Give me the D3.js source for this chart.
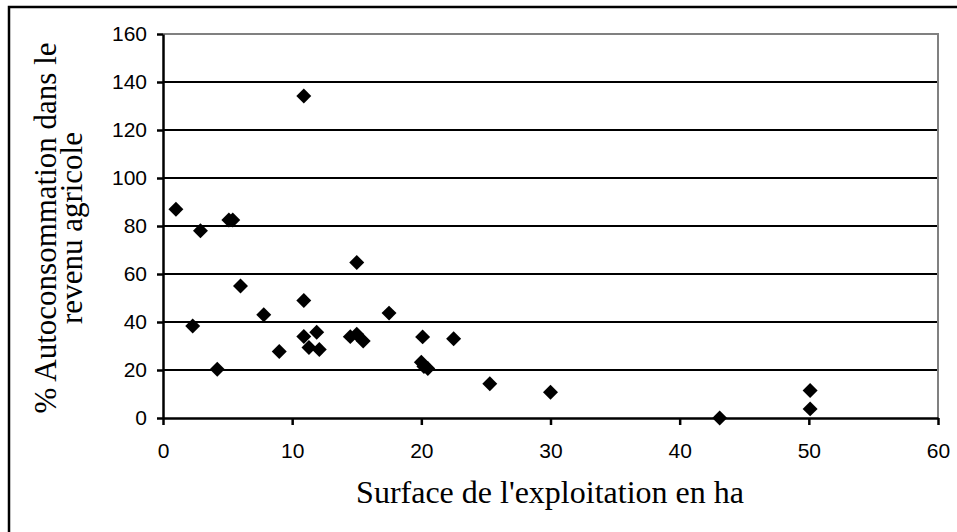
<!DOCTYPE html>
<html>
<head>
<meta charset="utf-8">
<script src="https://cdn.jsdelivr.net/npm/d3@7"></script>
<style>
  html,body{margin:0;padding:0;background:#fff;}
  svg{display:block;}
</style>
</head>
<body>
<div id="chart"></div>
<script>
// Nuage de points : surface de l'exploitation (ha) × % autoconsommation
const surface = [1.0, 2.3, 2.9, 4.2, 5.1, 5.4, 6.0, 7.8, 9.0, 10.9, 10.9, 10.9, 11.3, 11.9, 12.1,
                 14.5, 15.0, 15.0, 15.5, 17.5, 20.1, 20.0, 20.2, 20.5, 22.5, 25.3, 30.0, 43.1, 50.1, 50.1];
const autoconso = [87, 38.3, 78, 20.3, 82.5, 82.5, 55, 43, 27.7, 134.2, 49, 34, 29.4, 35.7, 28.5,
                   33.9, 64.8, 34.9, 32.1, 43.7, 33.8, 23.2, 21.5, 20.6, 33, 14.3, 10.7, 0, 11.5, 3.8];
const xTicks = [0, 10, 20, 30, 40, 50, 60];
const yTicks = [0, 20, 40, 60, 80, 100, 120, 140, 160];
const xTitle = "Surface de l'exploitation en ha";
const yTitle = ["% Autoconsommation dans le", "revenu agricole"];

const W = 957, H = 532;
const m = {l:163, r:19, t:34, b:114};
const svg = d3.select("#chart").append("svg").attr("width",W).attr("height",H);

// cadre extérieur (coupé à droite et en bas)
svg.append("rect").attr("x",9).attr("y",7).attr("width",980).attr("height",560)
  .attr("fill","#fff").attr("stroke","#000").attr("stroke-width",2.5);

const x = d3.scaleLinear().domain([0,60]).range([m.l, W-m.r]);
const y = d3.scaleLinear().domain([0,160]).range([H-m.b, m.t]);

// grille horizontale
svg.append("g").selectAll("line").data(yTicks.filter(d=>d>0 && d<160)).join("line")
  .attr("x1",x(0)).attr("x2",x(60)).attr("y1",d=>y(d)).attr("y2",d=>y(d))
  .attr("stroke","#000").attr("stroke-width",2);

// bord gris haut + droite
svg.append("path").attr("d",`M${x(0)},${y(160)}H${x(60)}V${y(0)}`)
  .attr("fill","none").attr("stroke","#808080").attr("stroke-width",2);

// axes
const yAxis = svg.append("g").attr("transform",`translate(${x(0)},0)`)
  .call(d3.axisLeft(y).tickValues(yTicks).tickSize(6).tickPadding(10).tickSizeOuter(0));
const xAxis = svg.append("g").attr("transform",`translate(0,${y(0)})`)
  .call(d3.axisBottom(x).tickValues(xTicks).tickSize(7).tickPadding(18).tickSizeOuter(0));
[yAxis,xAxis].forEach(a=>{
  a.select(".domain").attr("stroke","#000").attr("stroke-width",2.5);
  a.selectAll(".tick line").attr("stroke","#000").attr("stroke-width",2.5);
  a.selectAll(".tick text").attr("font-family","'Liberation Sans', Arial, sans-serif")
    .attr("font-size",21).attr("fill","#000");
});

// points (losanges)
const diamond = d3.symbol(d3.symbolSquare, 112);
svg.append("g").selectAll("path").data(surface.map((s,i)=>[s,autoconso[i]])).join("path")
  .attr("d",diamond)
  .attr("transform",d=>`translate(${x(d[0])},${y(d[1])}) rotate(45)`)
  .attr("fill","#000");

// titres
svg.append("text").attr("x",550).attr("y",503).attr("text-anchor","middle")
  .attr("font-family","'Liberation Serif', 'Times New Roman', serif").attr("font-size",32)
  .attr("fill","#000").text(xTitle);

const yt = svg.append("text").attr("transform",`translate(0,228) rotate(-90)`)
  .attr("text-anchor","middle")
  .attr("font-family","'Liberation Serif', 'Times New Roman', serif").attr("font-size",31)
  .attr("fill","#000");
yTitle.forEach((t,i)=>yt.append("tspan").attr("x",0).attr("y",56+i*26).text(t));
</script>
</body>
</html>
